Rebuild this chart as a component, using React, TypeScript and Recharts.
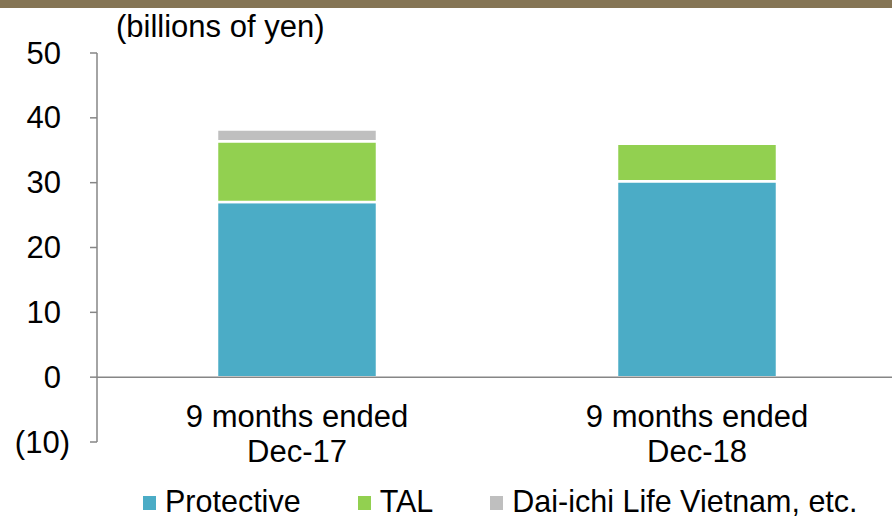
import React from "react";
import { BarChart, Bar, XAxis, YAxis, ReferenceLine, Legend } from "recharts";

const categories = ["9 months ended|Dec-17", "9 months ended|Dec-18"];
const protective = [27.0, 30.2];
const tal = [9.4, 5.8];
const vietnam = [1.8, 0];
const yTicks = [-10, 0, 10, 20, 30, 40, 50];

const seriesNames = ["Protective", "TAL", "Dai-ichi Life Vietnam, etc."];
const colors = ["#4BACC6", "#92D050", "#BFBFBF"];

const data = categories.map((c, i) => ({
  name: c,
  protective: protective[i],
  tal: tal[i],
  vietnam: vietnam[i],
}));

const FONT = "'Liberation Sans', Arial, sans-serif";

const YTick = (props: any) => {
  const { x, y, payload } = props;
  const v = payload.value as number;
  const neg = v < 0;
  return (
    <text
      x={neg ? x : x - 9}
      y={y + 10.5}
      textAnchor="end"
      fontSize={31}
      fontFamily={FONT}
      fill="#000"
    >
      {neg ? `(${Math.abs(v)})` : String(v)}
    </text>
  );
};

const XTick = (props: any) => {
  const { x, y, payload } = props;
  const lines = String(payload.value).split("|");
  return (
    <text x={x} y={y} textAnchor="middle" fontSize={31} fontFamily={FONT} fill="#000">
      <tspan x={x} y={y - 15.5}>{lines[0]}</tspan>
      <tspan x={x} y={y + 19.5}>{lines[1]}</tspan>
    </text>
  );
};

const LegendContent = () => (
  <div
    style={{
      display: "flex",
      alignItems: "center",
      paddingLeft: 143,
      fontFamily: FONT,
      fontSize: 30.5,
      lineHeight: "30px",
      height: 30,
      color: "#000",
      whiteSpace: "nowrap",
    }}
  >
    {seriesNames.map((n, i) => (
      <div key={n} style={{ display: "flex", alignItems: "center", marginRight: 57 }}>
        <div style={{ width: 13, height: 14, background: colors[i], marginRight: 9, marginTop: 3 }} />
        <span>{n}</span>
      </div>
    ))}
  </div>
);

export default function App() {
  return (
    <div
      style={{
        position: "absolute",
        left: 0,
        top: 0,
        width: 892,
        height: 519,
        overflow: "hidden",
        background: "#fff",
      }}
    >
      <div style={{ position: "absolute", left: 0, top: 0, width: 892, height: 8, background: "#857555" }} />
      <div
        style={{
          position: "absolute",
          left: 116,
          top: 10,
          fontFamily: FONT,
          fontSize: 31,
          lineHeight: "34px",
          color: "#000",
          whiteSpace: "nowrap",
          zIndex: 2,
        }}
      >
        (billions of yen)
      </div>
      <div style={{ position: "absolute", left: 0, top: 0 }}>
        <BarChart
          width={900}
          height={519}
          data={data}
          margin={{ top: 53, right: 3, bottom: 0, left: 0 }}
          barSize={160}
        >
          <XAxis
            dataKey="name"
            height={77}
            axisLine={false}
            tickLine={false}
            tickSize={0}
            tickMargin={0}
            tick={<XTick />}
            interval={0}
          />
          <XAxis xAxisId="b" type="number" domain={[0, 2]} hide />
          <YAxis
            width={97}
            domain={[-10, 50]}
            ticks={yTicks}
            interval={0}
            axisLine={{ stroke: "#868686", strokeWidth: 1.5 }}
            tickLine={{ stroke: "#868686", strokeWidth: 1.5 }}
            tickSize={7}
            tickMargin={20}
            tick={<YTick />}
          />
          <Legend
            verticalAlign="middle"
            layout="horizontal"
            wrapperStyle={{ top: 486, left: 0, width: 900 }}
            content={<LegendContent />}
          />
          <Bar dataKey="protective" stackId="a" fill={colors[0]} stroke="#fff" strokeWidth={2.5} isAnimationActive={false} />
          <Bar dataKey="tal" stackId="a" fill={colors[1]} stroke="#fff" strokeWidth={2.5} isAnimationActive={false} />
          <Bar dataKey="vietnam" stackId="a" fill={colors[2]} stroke="#fff" strokeWidth={2.5} isAnimationActive={false} />
          <ReferenceLine y={0} stroke="#868686" strokeWidth={1.5} />
          <ReferenceLine
            xAxisId="b"
            segment={[{ x: 1, y: 0 }, { x: 1, y: -1.2 }]}
            stroke="#868686"
            strokeWidth={1.5}
          />
        </BarChart>
      </div>
    </div>
  );
}
